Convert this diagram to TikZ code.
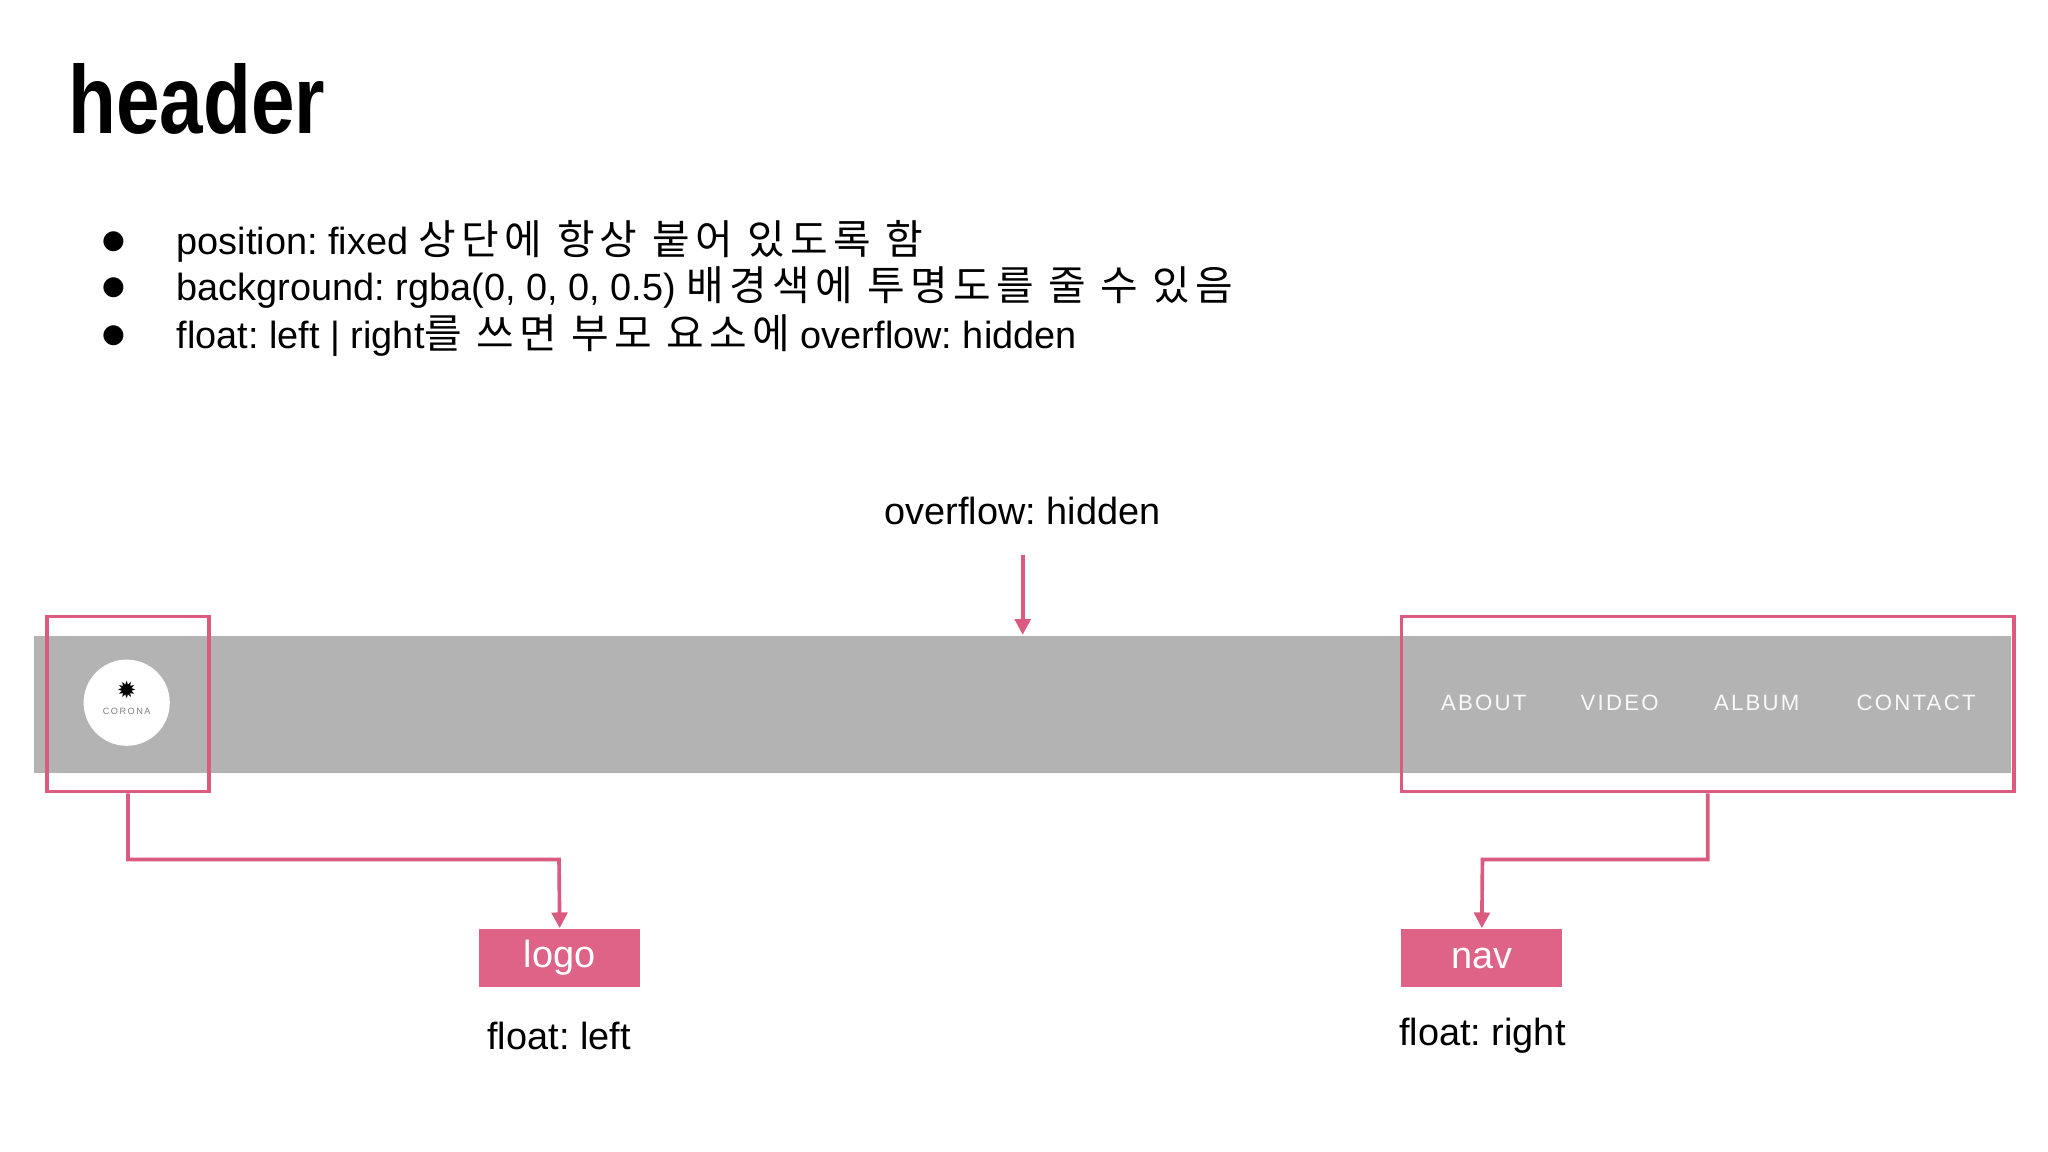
\documentclass[tikz,border=0pt]{standalone}
\usepackage{fontspec}
\setmainfont{Liberation Sans}
\newfontfamily\cjk[Scale=1.08,LetterSpace=13]{Noto Sans CJK KR}
\newfontfamily\dejavu{DejaVu Sans}
\usetikzlibrary{arrows.meta}
\frenchspacing
\definecolor{pk}{HTML}{DB5A80}
\definecolor{pkf}{HTML}{DE6387}
\definecolor{bar}{HTML}{B3B3B3}
\tikzset{
  frame/.style={draw=pk,line width=1.4pt},
  conn/.style={draw=pk,line width=1.4pt,-{Triangle[length=6pt,width=6pt]}},
  lbl/.style={font=\fontsize{14.5}{16}\selectfont,inner sep=0pt},
  tag/.style={fill=pkf,text=white,minimum width=61.5pt,minimum height=22.5pt,font=\fontsize{14.5}{16}\selectfont,inner sep=0pt},
  navitem/.style={text=white!92!bar,font=\fontsize{8.5}{10}\selectfont,inner sep=0pt},
}
\begin{document}
\begin{tikzpicture}[x=0.5pt,y=-0.5pt]
\useasboundingbox[fill=white] (0,0) rectangle (1568,882);
\node[anchor=base west,inner sep=0pt,font=\fontsize{37}{40}\selectfont\bfseries] (title) at (52,102) {\scalebox{0.81}[1]{header}};
\foreach \y/\t [count=\i] in {185/{position: fixed {\cjk 상단에 항상 붙어 있도록 함}},
  220/{background: rgba(0, 0, 0, 0.5) {\cjk 배경색에 투명도를 줄 수 있음}},
  257/{float: left | right{\cjk 를 쓰면 부모 요소에} overflow: hidden}}{
  \node[lbl] (b\i) at (87,\y) {\dejavu\fontsize{10}{12}\selectfont ●};
  \node[lbl,anchor=west] (t\i) at (135,\y) {\t};
}
\fill[bar] (26,487) rectangle (1540,592);
\node[circle,fill=white,minimum size=33pt,inner sep=0pt] (circ) at (97,538) {};
\node[inner sep=0pt,font=\dejavu\fontsize{9}{10}\selectfont] (gear) at (97,528) {✹};
\node[inner sep=0pt,font=\fontsize{3.5}{4}\selectfont,text=gray] (cor) at (97,545) {C\,O\,R\,O\,N\,A};
\foreach \x/\t/\n in {1136/ABOUT/a,1240/VIDEO/v,1345/ALBUM/al,1467/CONTACT/c}
  \node[navitem] (\n) at (\x,538) {\addfontfeature{LetterSpace=10}\t};
\node[frame,minimum width=62pt,minimum height=67pt,inner sep=0pt] (logobox) at (98,539) {};
\node[frame,minimum width=234.5pt,minimum height=67pt,inner sep=0pt] (navbox) at (1307.5,539) {};
\node[lbl] (ov) at (783,391) {overflow: hidden};
\coordinate (ovs) at (783,425);
\coordinate (ove) at (783,486);
\draw[conn] (ovs) -- (ove);
\node[tag] (logo) at (428.5,733.5) {logo};
\node[tag] (nav) at (1134.5,733.5) {nav};
\node[lbl] (fl) at (428,793) {float: left};
\node[lbl] (fr) at (1135,793) {float: right};
\draw[conn] (logobox.south) |- (428,658) -- (logo.north);
\draw[conn] (navbox.south) |- (1135,658) -- (nav.north);
\end{tikzpicture}
\end{document}
